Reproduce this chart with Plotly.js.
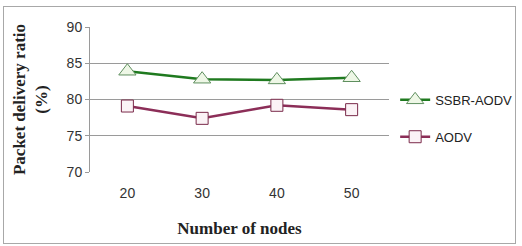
<!DOCTYPE html>
<html><head><meta charset="utf-8">
<script src="https://cdn.plot.ly/plotly-3.0.1.min.js"></script>
<style>
html,body{margin:0;padding:0;background:#fff;}
#wrap{position:absolute;left:0;top:0;width:522px;height:246px;}
#border{position:absolute;left:3px;top:6px;width:511px;height:236px;border:1px solid #a8a8a8;pointer-events:none;}
#chart{position:absolute;left:0;top:0;width:522px;height:246px;}
</style></head>
<body><div id="wrap"><div id="chart"></div><div id="border"></div></div>
<script>
const nodes = ['20', '30', '40', '50'];
const ssbrAodv = [83.9, 82.8, 82.7, 83.0];
const aodv = [79.1, 77.4, 79.2, 78.6];
const seriesNames = ['SSBR-AODV', 'AODV'];

const traces = [
  {x: nodes, y: ssbrAodv, name: seriesNames[0], type: 'scatter', mode: 'lines+markers',
   legendgroup: 'a',
   line: {color: '#1f7a1f', width: 2.5},
   marker: {symbol: 'triangle-up', size: 15, color: '#eef7e6', line: {color: '#5f8f5f', width: 1}}},
  {x: nodes, y: aodv, name: seriesNames[1], type: 'scatter', mode: 'lines+markers',
   legendgroup: 'b',
   line: {color: '#8c2e58', width: 2.5},
   marker: {symbol: 'square', size: 12, color: '#fbf3f6', line: {color: '#7a2a4a', width: 1}}}
];

const layout = {
  width: 522, height: 246,
  margin: {l: 90, r: 133, t: 27, b: 73.5},
  paper_bgcolor: '#fff', plot_bgcolor: '#fff',
  font: {family: 'Liberation Sans, Arial, sans-serif', size: 13, color: '#333'},
  xaxis: {
    type: 'category', range: [-0.5, 3.5],
    showgrid: false, showline: false, zeroline: false, ticks: '',
    tickfont: {size: 14, color: '#333'},
    ticklabelstandoff: 11,
    title: {text: 'Number of nodes', font: {family: 'Liberation Serif, Times New Roman, serif', size: 17, color: '#222', weight: 'bold'}, standoff: 22}
  },
  yaxis: {
    range: [70, 90], dtick: 5, tick0: 70,
    showgrid: true, gridcolor: '#9a9a9a', gridwidth: 1,
    showline: true, linecolor: '#9a9a9a', linewidth: 1,
    ticks: 'outside', ticklen: 4, tickcolor: '#9a9a9a',
    zeroline: false,
    tickfont: {size: 14, color: '#333'},
    title: {text: 'Packet delivery ratio<br>(%)', font: {family: 'Liberation Serif, Times New Roman, serif', size: 17, color: '#222', weight: 'bold'}, standoff: 14}
  },
  showlegend: true,
  legend: {
    xref: 'container', yref: 'container',
    x: 0.757, xanchor: 'left', y: 0.655, yanchor: 'top',
    bgcolor: 'rgba(0,0,0,0)', traceorder: 'grouped', tracegroupgap: 17,
    itemwidth: 30,
    font: {size: 13, color: '#222'}
  }
};

Plotly.newPlot('chart', traces, layout, {displayModeBar: false, staticPlot: true});
</script></body></html>
